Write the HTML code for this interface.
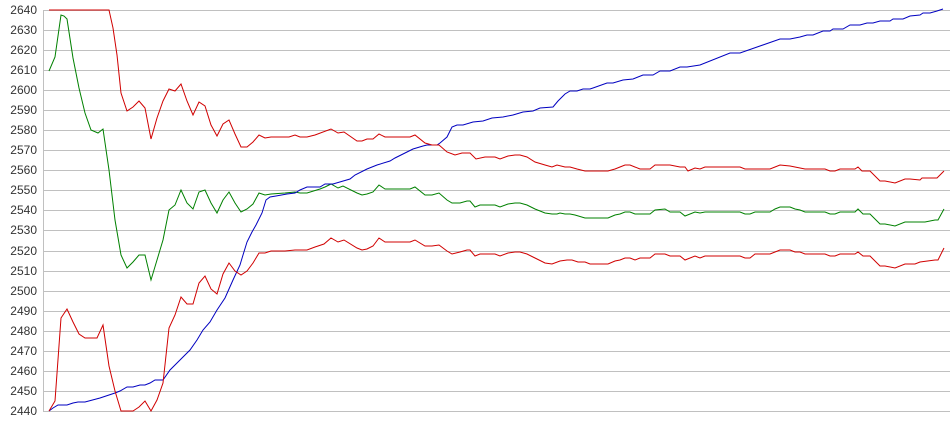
<!DOCTYPE html>
<html><head><meta charset="utf-8"><style>
html,body{margin:0;padding:0;background:#fff;}
svg{display:block;}
text{font-family:"Liberation Sans",sans-serif;font-size:12px;fill:#333;}
</style></head><body>
<svg width="950" height="435" viewBox="0 0 950 435" xmlns="http://www.w3.org/2000/svg">
<g stroke="#c0c0c0" stroke-width="1" shape-rendering="crispEdges">
<line x1="43.5" y1="10" x2="43.5" y2="411"/>
<line x1="43" y1="10.5" x2="950" y2="10.5"/>
<line x1="43" y1="30.5" x2="950" y2="30.5"/>
<line x1="43" y1="50.5" x2="950" y2="50.5"/>
<line x1="43" y1="70.5" x2="950" y2="70.5"/>
<line x1="43" y1="90.5" x2="950" y2="90.5"/>
<line x1="43" y1="110.5" x2="950" y2="110.5"/>
<line x1="43" y1="130.5" x2="950" y2="130.5"/>
<line x1="43" y1="150.5" x2="950" y2="150.5"/>
<line x1="43" y1="170.5" x2="950" y2="170.5"/>
<line x1="43" y1="190.5" x2="950" y2="190.5"/>
<line x1="43" y1="210.5" x2="950" y2="210.5"/>
<line x1="43" y1="230.5" x2="950" y2="230.5"/>
<line x1="43" y1="251.5" x2="950" y2="251.5"/>
<line x1="43" y1="271.5" x2="950" y2="271.5"/>
<line x1="43" y1="291.5" x2="950" y2="291.5"/>
<line x1="43" y1="311.5" x2="950" y2="311.5"/>
<line x1="43" y1="331.5" x2="950" y2="331.5"/>
<line x1="43" y1="351.5" x2="950" y2="351.5"/>
<line x1="43" y1="371.5" x2="950" y2="371.5"/>
<line x1="43" y1="391.5" x2="950" y2="391.5"/>
<line x1="43" y1="411.5" x2="950" y2="411.5"/>
</g>
<g text-anchor="end">
<text x="37" y="14">2640</text><text x="37" y="34">2630</text><text x="37" y="54">2620</text>
<text x="37" y="74">2610</text><text x="37" y="94">2600</text><text x="37" y="114">2590</text>
<text x="37" y="134">2580</text><text x="37" y="154">2570</text><text x="37" y="174">2560</text>
<text x="37" y="194">2550</text><text x="37" y="214">2540</text><text x="37" y="234">2530</text>
<text x="37" y="255">2520</text><text x="37" y="275">2510</text><text x="37" y="295">2500</text>
<text x="37" y="315">2490</text><text x="37" y="335">2480</text><text x="37" y="355">2470</text>
<text x="37" y="375">2460</text><text x="37" y="395">2450</text><text x="37" y="415">2440</text>
</g>
<g fill="none" stroke-width="1">
<polyline stroke="#008000" points="49,71 55,57 61,15 64,16 67,19 73,58 79,88 85,113 91,130 98,133 103,129 109,170 115,220 121,255 127,268 133,262 139,255 145,255 151,280 157,260 163,240 169,210 175,205 181,190 187,203 193,209 199,192 205,190 211,203 217,213 223,200 229,192 235,203 241,212 247,209 253,204 259,193 265,195 271,194 285,193 295,192 300,193 307,193 320,189 325,187 331,184 338,188 343,186 357,193 362,195 367,194 373,192 379,185 385,189 410,189 415,187 425,195 432,195 439,193 447,200 452,203 460,203 467,201 470,201 475,207 480,205 495,205 500,207 508,204 515,203 520,203 527,205 535,209 545,213 552,214 557,214 560,213 565,214 570,214 575,215 585,218 608,218 615,215 620,214 625,212 630,212 635,214 650,214 655,210 665,209 670,212 680,212 685,216 695,212 700,213 705,212 740,212 745,214 750,214 755,212 770,212 775,209 780,207 790,207 795,209 800,210 805,212 825,212 830,214 835,214 840,212 855,212 858,209 863,214 870,214 880,224 885,224 895,226 905,222 925,222 935,220 938,220 944,209"/>
<polyline stroke="#0000c0" points="49,411 53,408 58,405 67,405 73,403 78,402 85,402 100,398 115,393 120,391 127,387 133,387 140,385 145,385 150,383 155,380 163,380 170,370 180,360 190,350 197,340 203,330 210,322 217,310 225,298 233,280 240,265 243,255 247,242 252,232 256,225 262,213 266,200 270,197 276,196 287,194 295,193 300,190 307,187 320,187 325,184 333,184 350,179 355,175 367,169 377,165 390,161 395,158 407,152 413,149 423,146 427,145 437,145 440,143 447,137 452,127 457,125 463,125 473,122 483,121 492,118 503,117 513,115 523,112 533,111 540,108 553,107 558,101 565,94 570,91 577,91 583,89 590,89 593,88 607,83 613,83 623,80 633,79 643,75 653,75 660,71 670,71 680,67 687,67 700,65 730,53 740,53 780,39 790,39 800,37 807,35 813,35 823,31 830,31 833,29 843,29 850,25 860,25 867,23 873,23 880,21 890,21 893,19 903,19 910,16 920,15 923,13 930,13 937,11 943,9"/>
<polyline stroke="#d00000" points="49,10 109,10 113,28 117,55 121,93 127,111 133,107 139,101 145,108 151,139 157,118 163,101 169,89 175,91 181,84 187,101 193,115 199,102 205,106 211,125 217,136 223,124 229,120 235,134 241,147 247,147 253,142 259,135 265,138 271,137 289,137 295,135 300,137 307,137 315,135 331,129 338,133 344,132 357,141 362,141 367,139 373,139 379,134 385,137 410,137 415,135 425,143 432,145 439,145 447,152 455,155 462,153 470,153 476,159 485,157 495,157 500,159 508,156 515,155 520,155 527,157 535,162 545,165 552,167 557,165 565,167 570,167 577,169 585,171 608,171 615,169 620,167 625,165 630,165 640,169 650,169 655,165 670,165 680,167 685,167 688,171 695,168 700,169 705,167 740,167 745,169 770,169 775,167 780,165 790,166 795,167 805,169 825,169 830,171 835,171 840,169 855,169 858,167 862,171 870,171 880,181 885,181 895,183 905,179 910,179 920,180 922,178 937,178 940,175 944,171"/>
<polyline stroke="#d00000" points="49,411 55,401 61,318 67,309 73,322 79,334 85,338 97,338 103,325 109,366 115,391 121,411 133,411 139,407 145,401 151,411 157,400 163,383 169,328 175,315 181,297 187,304 193,304 199,283 205,276 211,289 217,294 223,274 229,263 235,271 241,275 247,271 253,263 259,253 265,253 271,251 285,251 295,250 307,250 315,247 324,244 331,238 338,242 344,240 357,248 362,250 367,249 373,246 379,238 385,242 410,242 415,240 425,246 432,246 439,245 447,251 452,254 460,252 467,250 470,250 475,256 480,254 495,254 500,256 508,253 515,252 520,252 527,254 535,258 545,263 552,264 560,261 567,260 572,260 578,262 585,262 590,264 608,264 615,261 620,260 625,258 630,258 635,260 640,258 650,258 655,254 665,254 670,256 680,256 685,260 695,256 700,258 705,256 740,256 745,258 750,258 755,254 770,254 775,252 780,250 790,250 795,252 800,252 805,254 825,254 830,256 835,256 840,254 855,254 858,252 863,256 870,256 880,266 885,266 895,268 905,264 915,264 920,262 935,260 938,260 944,248"/>
</g>
</svg>
</body></html>
